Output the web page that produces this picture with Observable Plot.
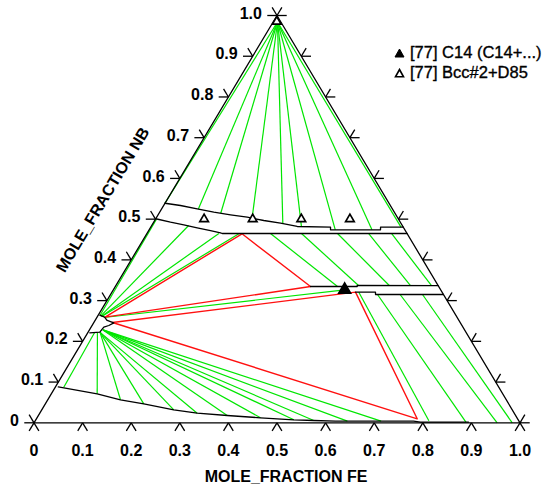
<!DOCTYPE html>
<html><head><meta charset="utf-8">
<script src="https://cdn.jsdelivr.net/npm/d3@7"></script>
<script src="https://cdn.jsdelivr.net/npm/@observablehq/plot@0.6"></script>
<style>
body{margin:0;background:#fff}
#wrap{position:relative;width:548px;height:489px;overflow:hidden;font-family:"Liberation Sans",Arial,sans-serif;color:#000}
.ttl{position:absolute;font-weight:bold;font-size:16px;white-space:nowrap;transform:translate(-50%,-50%)}
.leg{position:absolute;font-size:16.5px;white-space:nowrap;display:flex;align-items:center;-webkit-text-stroke:0.35px #000}
.leg svg{margin-right:5px}
</style>
</head><body><div id="wrap"></div>
<script>
// ---- data: compositions as [FE, NB] mole fractions ----
const tickValues = [0,0.1,0.2,0.3,0.4,0.5,0.6,0.7,0.8,0.9,1.0];
const tickLabels = ["0","0.1","0.2","0.3","0.4","0.5","0.6","0.7","0.8","0.9","1.0"];

// phase boundaries (black)
const upperBandTop = [[0,0.539],[0.0347,0.5335],[0.0731,0.5254],[0.1114,0.5171],[0.149,0.5107],[0.1863,0.5048],[0.2245,0.4967],[0.2622,0.4901],[0.3006,0.482],[0.37,0.4803],[0.3732,0.4738],[0.4761,0.4738],[0.4729,0.4803],[0.5197,0.4803]];
const upperBandBottom = [[0,0.501],[0.0346,0.4925],[0.0652,0.4861],[0.0964,0.4788],[0.1271,0.4721],[0.1505,0.4665],[0.155,0.4648],[0.5352,0.4648]];
const midBandTop = [[0.4016,0.3346],[0.4977,0.3346],[0.4965,0.3371],[0.663,0.337]];
const midBandBottom = [[0.5012,0.3207],[0.5423,0.3207],[0.5452,0.315],[0.685,0.315]];
const smallRegion = [[0.0033,0.2642],[0.0155,0.2593],[0.025,0.2512],[0.0415,0.2455],[0.0345,0.2389],[0.0263,0.2347],[0.0242,0.2224],[0.0043,0.221]];
const lowerBoundary = [[0.006,0.088],[0.0944,0.0712],[0.1497,0.0565],[0.2026,0.0466],[0.2717,0.0319],[0.324,0.0236],[0.3886,0.0179],[0.4599,0.0123],[0.5309,0.0074],[0.5729,0.0056],[0.6184,0.004],[0.7789,0.004],[0.7945,0.0015],[0.8933,0.0015]];

// three-phase triangles (red)
const redTriangleUpper = [[0.0166,0.2595],[0.196,0.464],[0.4016,0.3346],[0.0166,0.2595]];
const redTriangleLower = [[0.0384,0.2463],[0.5012,0.3207],[0.7836,0.0098],[0.0384,0.2463]];

// tie lines (green) as [fe1, nb1, fe2, nb2]
const tieTopFan = [
  [0.009,0.984,0.0,0.539],[0.009,0.984,0.0757,0.525],[0.009,0.984,0.127,0.5145],
  [0.009,0.984,0.1976,0.5024],[0.009,0.984,0.2675,0.489],[0.009,0.984,0.3094,0.4818],
  [0.009,0.984,0.383,0.4738],[0.009,0.984,0.4585,0.4738],[0.009,0.984,0.515,0.4803]
];
const tieUpperFan = [
  [0.004,0.264,0.002,0.50],[0.006,0.262,0.076,0.4844],[0.008,0.261,0.148,0.4648],
  [0.010,0.262,0.19,0.4648],[0.015,0.2585,0.476,0.3265]
];
const tieMiddle = [
  [0.2542,0.4648,0.4572,0.3346],[0.318,0.4648,0.4992,0.337],[0.3921,0.4648,0.5625,0.337],
  [0.4559,0.4648,0.6062,0.337],[0.5032,0.4648,0.6494,0.337]
];
const tieRight = [
  [0.508,0.3207,0.81,0.005],[0.5493,0.315,0.888,0.0015],[0.5958,0.315,0.953,0],[0.6419,0.315,0.984,0]
];
const tieLowerFan = [
  [0.014,0.221,0.0176,0.0874],[0.02,0.221,0.0944,0.0712],[0.025,0.222,0.1497,0.0565],
  [0.025,0.222,0.2026,0.0466],[0.025,0.222,0.2717,0.0319],[0.025,0.222,0.324,0.0236],
  [0.028,0.228,0.3886,0.0179],[0.028,0.228,0.4599,0.0123],[0.028,0.228,0.5309,0.0074],
  [0.028,0.228,0.5729,0.0056],[0.028,0.228,0.6428,0.004],[0.028,0.228,0.7122,0.004]
];

// experimental points
const c14Points = [[0.476,0.3265]];
const bccD85Points = [[0.007,0.985],[0.1,0.5],[0.2,0.5],[0.3,0.5],[0.4,0.5]];

const legendItems = ["[77] C14 (C14+...)", "[77] Bcc#2+D85"];

// ---- ternary projection helpers ----
const px = d => d[0] + d[1] / 2;
const py = d => d[1];
const TL = 0.02;

const triangle = [[0,0],[1,0],[0,1],[0,0]];
const tickSegs = [];
for (const n of tickValues) {
  tickSegs.push([0,n,-TL,n],[0,n,-TL,n+TL]);           // left (NB) axis
  tickSegs.push([1-n,n,1-n+TL,n],[1-n,n,1-n,n+TL]);    // right axis
}
for (const f of tickValues) tickSegs.push([f,0,f,-TL],[f,0,f+TL,-TL]); // bottom (FE) axis

const link = (data, stroke, w) => Plot.link(data, {
  x1: d => d[0] + d[1]/2, y1: d => d[1], x2: d => d[2] + d[3]/2, y2: d => d[3],
  stroke, strokeWidth: w
});
const GREEN = "#00e600", RED = "#ff1010", BLACK = "#000";
const bl = (data) => Plot.line(data, {x: px, y: py, stroke: BLACK, strokeWidth: 1.3});

const chart = Plot.plot({
  width: 548, height: 489,
  marginLeft: 0, marginRight: 0, marginTop: 0, marginBottom: 0,
  x: {domain: [0,1], range: [33.5, 519.5], axis: null},
  y: {domain: [0,1], range: [422.3, 15], axis: null},
  style: {background: "white", fontFamily: "'Liberation Sans', Arial, sans-serif"},
  marks: [
    link(tieTopFan, GREEN, 1.2),
    link(tieUpperFan, GREEN, 1.2),
    link(tieMiddle, GREEN, 1.2),
    link(tieRight, GREEN, 1.2),
    link(tieLowerFan, GREEN, 1.2),
    Plot.line(redTriangleUpper, {x: px, y: py, stroke: RED, strokeWidth: 1.4}),
    Plot.line(redTriangleLower, {x: px, y: py, stroke: RED, strokeWidth: 1.4}),
    bl(upperBandTop),
    bl(upperBandBottom),
    bl(midBandTop),
    bl(midBandBottom),
    bl(smallRegion),
    bl(lowerBoundary),
    Plot.line(triangle, {x: px, y: py, stroke: BLACK, strokeWidth: 1.3}),
    link(tickSegs, BLACK, 1.3),
    Plot.dot(bccD85Points, {x: px, y: py, symbol: "triangle", r: 3.2, stroke: BLACK, strokeWidth: 1.7, fill: "white"}),
    Plot.dot(c14Points, {x: px, y: py, symbol: "triangle", r: 4.5, fill: BLACK, stroke: BLACK}),
    Plot.text(tickValues, {x: d => d/2 - 0.031, y: d => d, text: (d,i) => tickLabels[i], textAnchor: "end", fontSize: 16, fontWeight: "bold", fill: BLACK, dy: -2}),
    Plot.text(tickValues, {x: d => d, y: 0, text: (d,i) => tickLabels[i], textAnchor: "middle", fontSize: 16, fontWeight: "bold", fill: BLACK, dy: 28.5})
  ]
});
const wrap = document.getElementById("wrap");
wrap.appendChild(chart);

const t1 = document.createElement("div");
t1.className = "ttl"; t1.textContent = "MOLE_FRACTION FE";
t1.style.left = "286px"; t1.style.top = "477px";
wrap.appendChild(t1);
const t2 = document.createElement("div");
t2.className = "ttl"; t2.textContent = "MOLE_FRACTION NB";
t2.style.left = "103px"; t2.style.top = "200px";
t2.style.transform = "translate(-50%,-50%) rotate(-59deg)";
wrap.appendChild(t2);

const icons = [
  '<svg width="11" height="10"><path d="M5.5 1 L10 9 L1 9 Z" fill="#000" stroke="#000"/></svg>',
  '<svg width="11" height="10"><path d="M5.5 1.5 L9.5 8.8 L1.5 8.8 Z" fill="none" stroke="#000" stroke-width="1.6"/></svg>'
];
legendItems.forEach((s, i) => {
  const d = document.createElement("div");
  d.className = "leg";
  d.style.left = "394px"; d.style.top = (43 + i*20) + "px";
  d.innerHTML = icons[i] + "<span></span>";
  d.querySelector("span").textContent = s;
  wrap.appendChild(d);
});
</script></body></html>
